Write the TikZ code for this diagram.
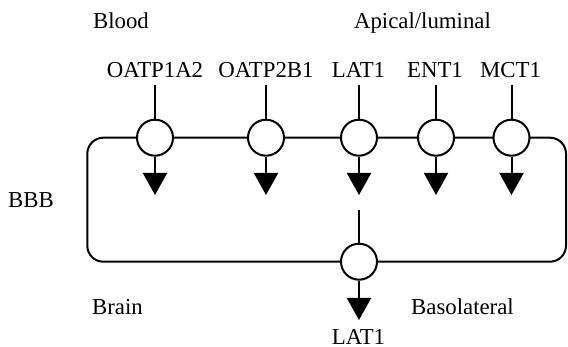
\documentclass[tikz,border=0pt]{standalone}
\usepackage{fontspec}
\setmainfont{Liberation Serif}
\usetikzlibrary{arrows.meta,positioning}
\tikzset{
  porter/.style={draw,fill=white,circle,line width=1pt,
                 minimum size=18pt,inner sep=0pt},
  lbl/.style={anchor=base,inner sep=0pt,font=\rmfamily\fontsize{11.4}{13.7}\selectfont},
  inline/.style={line width=1pt},
  outarr/.style={-{Triangle[length=11pt,width=12pt]},line width=1pt},
  membrane/.style={draw,line width=1pt,rounded corners=8pt}
}
\begin{document}
\begin{tikzpicture}[x=0.5pt,y=-0.5pt]
    \path[use as bounding box] (0,0) rectangle (568,347);
    % barrier outline
    \draw[membrane] (87.3,137.7) rectangle (566,261.7);

    \node[lbl] (blood) at (121,29) {Blood};
    \node[lbl] (apical) at (422.5,29) {Apical/luminal};
    \node[lbl] (bbb) at (31,208) {BBB};
    \node[lbl] (brain) at (117.5,315) {Brain};
    \node[lbl] (baso) at (462.5,315) {Basolateral};

    % luminal transporters
    \node[lbl] (toatpa) at (155,78) {OATP1A2};
    \node[lbl] (toatpb) at (266,78) {OATP2B1};
    \node[lbl] (tlat) at (358.5,78) {LAT1};
    \node[lbl] (tent) at (435,78) {ENT1};
    \node[lbl] (tmct) at (510.5,78) {MCT1};

    \node[porter] (oatpa) at (155,137.7) {};
    \node[porter] (oatpb) at (266,137.7) {};
    \node[porter] (lat) at (359,137.7) {};
    \node[porter] (ent) at (436,137.7) {};
    \node[porter] (mct) at (511.5,137.7) {};

    \coordinate (ina) at (155,85);
    \coordinate (inb) at (266,85);
    \coordinate (inc) at (359,85);
    \coordinate (ind) at (436,85);
    \coordinate (ine) at (511.5,85);
    \coordinate (outa) at (155,195);
    \coordinate (outb) at (266,195);
    \coordinate (outc) at (359,195);
    \coordinate (outd) at (436,195);
    \coordinate (oute) at (511.5,195);

    \draw[inline] (ina) -- (oatpa);
    \draw[inline] (inb) -- (oatpb);
    \draw[inline] (inc) -- (lat);
    \draw[inline] (ind) -- (ent);
    \draw[inline] (ine) -- (mct);
    \draw[outarr] (oatpa) -- (outa);
    \draw[outarr] (oatpb) -- (outb);
    \draw[outarr] (lat) -- (outc);
    \draw[outarr] (ent) -- (outd);
    \draw[outarr] (mct) -- (oute);

    % abluminal side
    \node[porter] (latb) at (359,261.7) {};
    \coordinate (inlb) at (359,210);
    \coordinate (outlb) at (359,320);
    \draw[inline] (inlb) -- (latb);
    \draw[outarr] (latb) -- (outlb);
    \node[lbl] (blat) at (358.5,344.5) {LAT1};
  \end{tikzpicture}
\end{document}
